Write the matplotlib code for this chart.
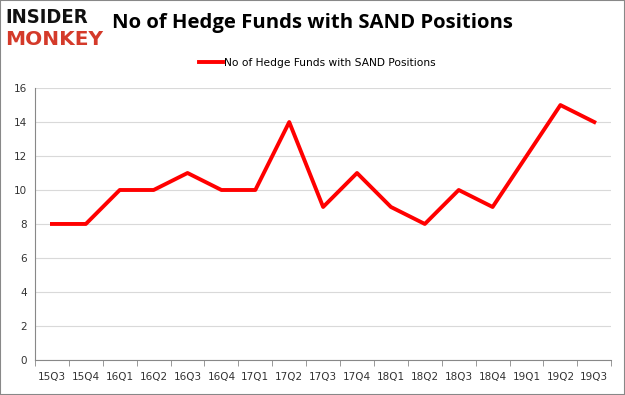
import matplotlib
matplotlib.use("Agg")
import matplotlib.pyplot as plt
import numpy as np

# Datos
quarters = ["15Q3", "15Q4", "16Q1", "16Q2", "16Q3", "16Q4", "17Q1", "17Q2", "17Q3",
            "17Q4", "18Q1", "18Q2", "18Q3", "18Q4", "19Q1", "19Q2", "19Q3"]
funds = [8, 8, 10, 10, 11, 10, 10, 14, 9, 11, 9, 8, 10, 9, 12, 15, 14]
yticks = [0, 2, 4, 6, 8, 10, 12, 14, 16]

fig = plt.figure(figsize=(6.25, 3.95), dpi=100)
ax = fig.add_axes([0.056, 0.089, 0.922, 0.688])

x = np.arange(len(quarters))
ax.plot(x, funds, color="#ff0000", linewidth=2.8, label="No of Hedge Funds with SAND Positions")

ax.set_xlim(-0.5, len(quarters) - 0.5)
ax.set_ylim(0, 16)
ax.set_yticks(yticks)
ax.set_xticks(x)
ax.set_xticklabels(quarters)
ax.set_xticks(np.arange(-0.5, len(quarters), 1), minor=True)
ax.tick_params(axis="x", which="major", length=0, pad=9, labelsize=7.5, colors="#333333")
ax.tick_params(axis="x", which="minor", length=4, color="#888888")
ax.tick_params(axis="y", length=0, pad=6, labelsize=7.5, colors="#333333")
ax.grid(axis="y", color="#d9d9d9", linewidth=0.8)
ax.set_axisbelow(True)
for s in ["top", "right"]:
    ax.spines[s].set_visible(False)
ax.spines["left"].set_color("#888888")
ax.spines["bottom"].set_color("#888888")

ax.legend(loc="lower center", bbox_to_anchor=(0.49, 1.04), frameon=False, fontsize=7.7,
          handlelength=2.3, handletextpad=0.1)

fig.text(0.5, 0.943, "No of Hedge Funds with SAND Positions", ha="center", va="center",
         fontsize=14.6, fontweight="bold", family="Open Sans")
fig.text(0.008, 0.955, "INSIDER", ha="left", va="center", fontsize=14.5, fontweight="heavy",
         color="#111111", family="DejaVu Sans", stretch="condensed")
fig.text(0.008, 0.9, "MONKEY", ha="left", va="center", fontsize=14.5, fontweight="heavy",
         color="#d43a2a", family="DejaVu Sans")

fig.patches.append(plt.Rectangle((0, 0), 1, 1, transform=fig.transFigure, fill=False,
                                 edgecolor="#888888", linewidth=1.5))

plt.savefig("out.png", dpi=100)
